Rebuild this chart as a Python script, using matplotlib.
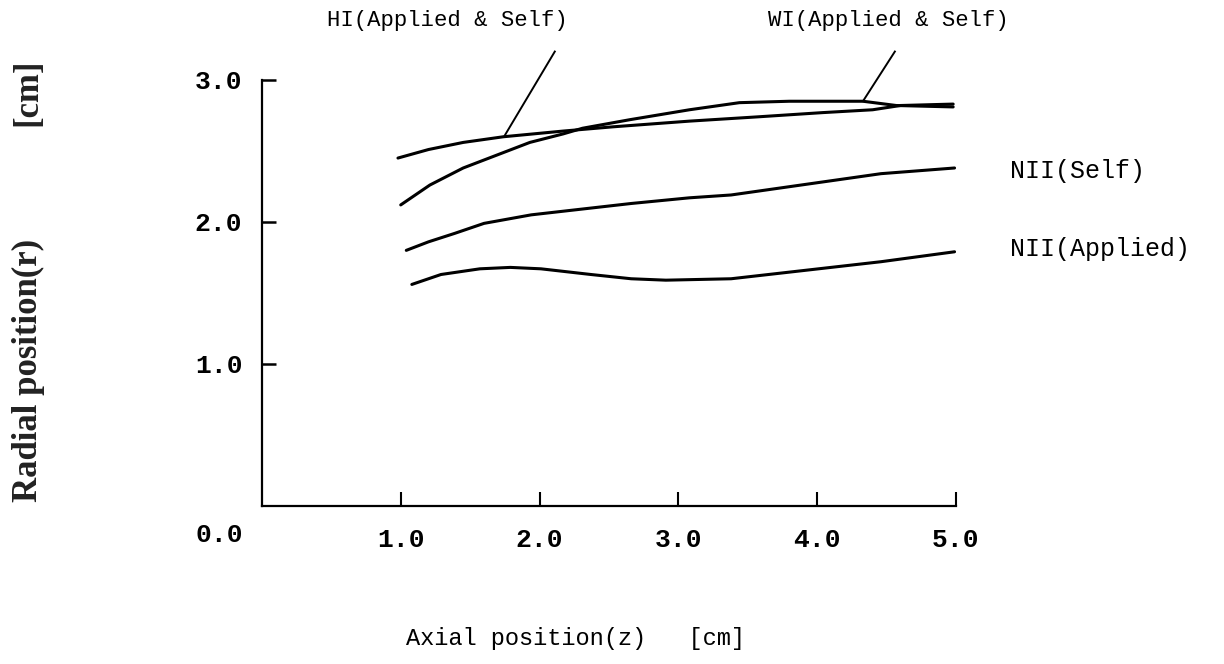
import matplotlib
matplotlib.use("Agg")
import matplotlib.pyplot as plt

# curves (axial z [cm], radial r [cm])
hi_z = [0.98, 1.20, 1.45, 1.74, 2.17, 2.53, 3.08, 3.57, 4.04, 4.40, 4.60, 4.98]
hi_r = [2.45, 2.51, 2.56, 2.60, 2.64, 2.67, 2.71, 2.74, 2.77, 2.79, 2.82, 2.83]

wi_z = [1.00, 1.21, 1.45, 1.69, 1.93, 2.17, 2.31, 2.65, 3.08, 3.44, 3.80, 4.33, 4.57, 4.98]
wi_r = [2.12, 2.26, 2.38, 2.47, 2.56, 2.62, 2.66, 2.72, 2.79, 2.84, 2.85, 2.85, 2.82, 2.81]

nself_z = [1.04, 1.20, 1.39, 1.60, 1.94, 2.66, 3.08, 3.38, 4.10, 4.46, 4.99]
nself_r = [1.80, 1.86, 1.92, 1.99, 2.05, 2.13, 2.17, 2.19, 2.29, 2.34, 2.38]

napp_z = [1.08, 1.29, 1.57, 1.79, 2.01, 2.37, 2.66, 2.91, 3.38, 3.74, 4.46, 4.99]
napp_r = [1.56, 1.63, 1.67, 1.68, 1.67, 1.63, 1.60, 1.59, 1.60, 1.64, 1.72, 1.79]

xticks = [1.0, 2.0, 3.0, 4.0, 5.0]
yticks = [1.0, 2.0, 3.0]

mono = "Liberation Mono"

fig = plt.figure(figsize=(12.24, 6.64), dpi=100)
ax = fig.add_axes([0.214, 0.238, 0.567, 0.6416])

for z, r in [(hi_z, hi_r), (wi_z, wi_r), (nself_z, nself_r), (napp_z, napp_r)]:
    ax.plot(z, r, color="black", lw=2.2, solid_capstyle="round")

# leader lines to the top labels
ax.plot([1.75, 2.11], [2.61, 3.20], color="black", lw=1.4, clip_on=False)
ax.plot([4.33, 4.56], [2.85, 3.20], color="black", lw=1.4, clip_on=False)

ax.set_xlim(0, 5.0)
ax.set_ylim(0, 3.0)
for s in ["top", "right"]:
    ax.spines[s].set_visible(False)
for s in ["left", "bottom"]:
    ax.spines[s].set_linewidth(1.6)

ax.set_xticks(xticks)
ax.set_xticklabels(["%.1f" % v for v in xticks])
ax.set_yticks(yticks)
ax.set_yticklabels(["%.1f" % v for v in yticks])
ax.tick_params(axis="x", direction="in", length=10, width=1.5, pad=16)
ax.tick_params(axis="y", direction="in", length=10, width=1.8, pad=14)
for lab in ax.get_xticklabels() + ax.get_yticklabels():
    lab.set_fontfamily(mono)
    lab.set_fontsize(19)
    lab.set_fontweight("bold")

ax.text(-0.31, -0.205, "0.0", family=mono, fontsize=19, fontweight="bold",
        ha="center", va="center")

ax.text(2.20, 3.42, "HI(Applied & Self)", family=mono, fontsize=16,
        ha="right", va="center")
ax.text(4.51, 3.42, "WI(Applied & Self)", family=mono, fontsize=16,
        ha="center", va="center")
ax.text(5.39, 2.36, "NII(Self)", family=mono, fontsize=18,
        ha="left", va="center")
ax.text(5.39, 1.81, "NII(Applied)", family=mono, fontsize=18,
        ha="left", va="center")

fig.text(0.47, 1 - 638 / 664, "Axial position(z)   [cm]", family=mono,
         fontsize=17, ha="center", va="center")
fig.text(0.023, 1 - 370 / 664, "Radial position(r)", family="Liberation Serif",
         fontsize=25, fontweight="bold", rotation=90, ha="center", va="center",
         color="#222222")
fig.text(0.023, 1 - 92 / 664, "[cm]", family="Liberation Serif",
         fontsize=25, fontweight="bold", rotation=90, ha="center", va="center",
         color="#222222")

fig.savefig("out.png", dpi=100)
